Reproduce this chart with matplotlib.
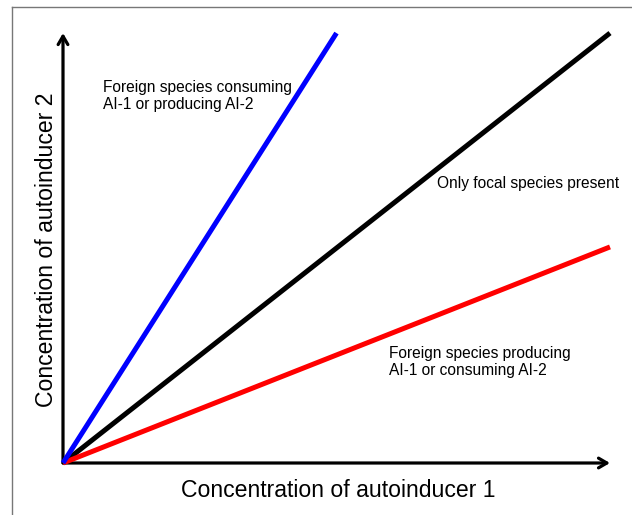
import matplotlib
matplotlib.use("Agg")
import matplotlib.pyplot as plt
from matplotlib.lines import Line2D

W, H = 632, 515
DPI = 100

# Data (concentration units)
x_axis_end = 10.0
y_axis_end = 7.86
focal_x = [0, 10.0]
focal_y = [0, 7.86]
blue_x = [0, 5.0]
blue_y = [0, 7.86]
red_x = [0, 10.0]
red_y = [0, 3.95]

xlabel = "Concentration of autoinducer 1"
ylabel = "Concentration of autoinducer 2"
label_blue = ["Foreign species consuming", "AI-1 or producing AI-2"]
label_black = "Only focal species present"
label_red = ["Foreign species producing", "AI-1 or consuming AI-2"]

plt.rcParams['font.family'] = ['Liberation Sans', 'DejaVu Sans']

fig = plt.figure(figsize=(W / DPI, H / DPI), dpi=DPI)

def fx(px):
    return px / W

def fy(py):
    return 1 - py / H

# axes: origin at pixel (63,463); 1 unit = 54.7 px
unit = 54.7
ax = fig.add_axes([fx(63), fy(463), 11 * unit / W, 8.5 * unit / H])
ax.set_xlim(0, 11)
ax.set_ylim(0, 8.5)
ax.axis('off')

lw_axis = 2.3
ax.annotate('', xy=(x_axis_end, 0), xytext=(0, 0),
            arrowprops=dict(arrowstyle='->,head_length=0.6,head_width=0.35', lw=lw_axis, color='black',
                            shrinkA=0, shrinkB=0), annotation_clip=False)
ax.annotate('', xy=(0, y_axis_end), xytext=(0, 0),
            arrowprops=dict(arrowstyle='->,head_length=0.6,head_width=0.35', lw=lw_axis, color='black',
                            shrinkA=0, shrinkB=0), annotation_clip=False)

ax.plot(focal_x, focal_y, color='black', lw=3.6, solid_capstyle='butt', clip_on=False, zorder=3)
ax.plot(red_x, red_y, color='#ff0000', lw=3.6, solid_capstyle='butt', clip_on=False, zorder=4)
ax.plot(blue_x, blue_y, color='#0000ff', lw=3.6, solid_capstyle='butt', clip_on=False, zorder=5)

small = 11.2
for i, line in enumerate(label_blue):
    fig.text(fx(103), fy(92 + 17.5 * i), line, fontsize=small, ha='left', va='baseline')
fig.text(fx(437), fy(188), label_black, fontsize=small, ha='left', va='baseline')
for i, line in enumerate(label_red):
    fig.text(fx(389), fy(358 + 17.5 * i), line, fontsize=small, ha='left', va='baseline')

big = 16.6
fig.text(fx(338.5), fy(497), xlabel, fontsize=big, ha='center', va='baseline')
fig.text(fx(53), fy(250), ylabel, fontsize=big, ha='center', va='baseline', rotation=90,
         rotation_mode='anchor')

# frame
fig.add_artist(Line2D([fx(12), fx(632)], [fy(7), fy(7)], color='#777777', lw=1.0))
fig.add_artist(Line2D([fx(12), fx(12)], [fy(7), fy(515)], color='#777777', lw=1.0))

fig.savefig('out.png', dpi=DPI)
